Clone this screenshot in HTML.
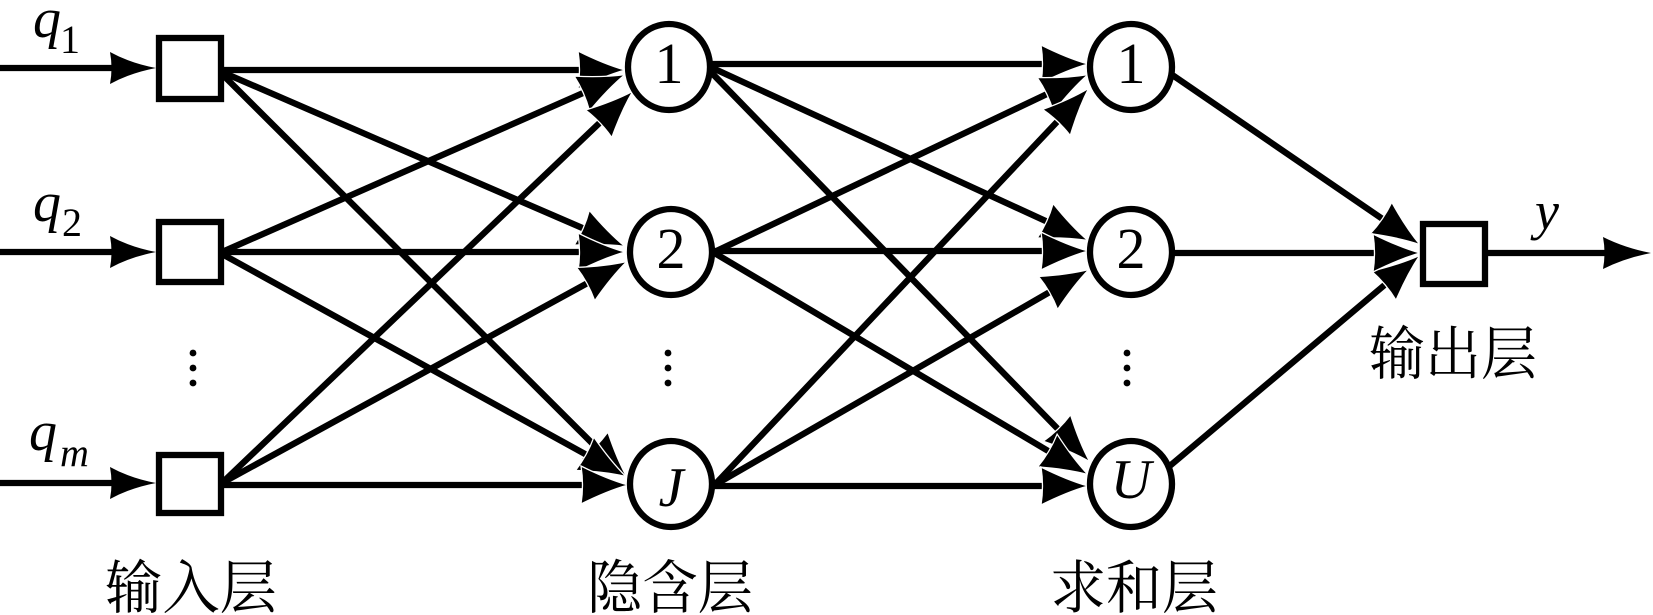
<!DOCTYPE html>
<html>
<head>
<meta charset="utf-8">
<style>
html,body{margin:0;padding:0;background:#fff;width:1653px;height:615px;overflow:hidden}
svg{display:block}
.l{stroke:#000;stroke-width:6.3;fill:none;stroke-dasharray:93 100}
.n{stroke:#000;stroke-width:6.3;fill:none}
text{fill:#000;font-family:"Liberation Serif","Noto Serif CJK SC",serif}
.i{font-style:italic}
</style>
</head>
<body>
<svg width="1653" height="615" viewBox="0 0 1653 615" xmlns="http://www.w3.org/2000/svg">
<defs>
<marker id="a" markerUnits="userSpaceOnUse" markerWidth="60" markerHeight="44" viewBox="-50 -22 60 44" refX="0" refY="0" orient="auto" overflow="visible">
<path d="M-46,-19 Q-20,-6 1,0 Q-20,6 -46,19 Q-43,0 -46,-19 Z" fill="#000" stroke="#fff" stroke-width="1.3"/>
</marker>
</defs>

<g stroke="#000" stroke-width="6.3">
<line x1="0" y1="68" x2="125" y2="68"/>
<line x1="0" y1="252" x2="125" y2="252"/>
<line x1="0" y1="483" x2="125" y2="483"/>
<line x1="1487" y1="253" x2="1615" y2="253"/>
</g>
<g fill="#000">
<path d="M110,52 Q130,63 156,68 Q130,73 110,84 Q113,68 110,52Z"/>
<path d="M110,236 Q130,247 156,252 Q130,257 110,268 Q113,252 110,236Z"/>
<path d="M110,467 Q130,478 156,483 Q130,488 110,499 Q113,483 110,467Z"/>
<path d="M1603,237 Q1625,248 1651,253 Q1625,258 1603,269 Q1606,253 1603,237Z"/>
</g>

<g>
<path class="l" pathLength="100" marker-end="url(#a)" d="M222,70 L624,70"/>
<path class="l" pathLength="100" marker-end="url(#a)" d="M222,252 L624,75"/>
<path class="l" pathLength="100" marker-end="url(#a)" d="M222,483 L632,92"/>
<path class="l" pathLength="100" marker-end="url(#a)" d="M222,72 L624,246"/>
<path class="l" pathLength="100" marker-end="url(#a)" d="M222,252 L624,252"/>
<path class="l" pathLength="100" marker-end="url(#a)" d="M222,483 L626,262"/>
<path class="l" pathLength="100" marker-end="url(#a)" d="M222,74 L627,478"/>
<path class="l" pathLength="100" marker-end="url(#a)" d="M222,254 L625,476"/>
<path class="l" pathLength="100" marker-end="url(#a)" d="M222,485 L627,485"/>

<path class="l" pathLength="100" marker-end="url(#a)" d="M706,64 L1087,64"/>
<path class="l" pathLength="100" marker-end="url(#a)" d="M706,256 L1087,75"/>
<path class="l" pathLength="100" marker-end="url(#a)" d="M706,494 L1088,89"/>
<path class="l" pathLength="100" marker-end="url(#a)" d="M706,65 L1087,240"/>
<path class="l" pathLength="100" marker-end="url(#a)" d="M706,251 L1087,251"/>
<path class="l" pathLength="100" marker-end="url(#a)" d="M706,490 L1088,270"/>
<path class="l" pathLength="100" marker-end="url(#a)" d="M706,67 L1089,461"/>
<path class="l" pathLength="100" marker-end="url(#a)" d="M706,248 L1087,474"/>
<path class="l" pathLength="100" marker-end="url(#a)" d="M706,486 L1087,486"/>

<path class="l" pathLength="100" marker-end="url(#a)" d="M1168,72 L1419,244"/>
<path class="l" pathLength="100" marker-end="url(#a)" d="M1165,470 L1419,256"/>
<path class="l" pathLength="100" marker-end="url(#a)" d="M1168,253 L1419,253"/>
</g>

<g>
<rect class="n" style="fill:#fff" x="159" y="38" width="62" height="61"/>
<rect class="n" style="fill:#fff" x="159" y="222" width="62" height="60"/>
<rect class="n" style="fill:#fff" x="159" y="455" width="62" height="58"/>
<rect class="n" style="fill:#fff" x="1423" y="224" width="62" height="60"/>
<ellipse class="n" style="fill:#fff" cx="669" cy="67" rx="41" ry="43"/>
<ellipse class="n" style="fill:#fff" cx="671" cy="252" rx="41" ry="43"/>
<ellipse class="n" style="fill:#fff" cx="671" cy="484" rx="41" ry="43"/>
<ellipse class="n" style="fill:#fff" cx="1131" cy="67" rx="41" ry="43"/>
<ellipse class="n" style="fill:#fff" cx="1131" cy="252" rx="41" ry="43"/>
<ellipse class="n" style="fill:#fff" cx="1131" cy="484" rx="41" ry="43"/>
</g>

<g fill="#000">
<circle cx="193" cy="353" r="3.4"/><circle cx="193" cy="368" r="3.4"/><circle cx="193" cy="383" r="3.4"/>
<circle cx="668" cy="353" r="3.4"/><circle cx="668" cy="368" r="3.4"/><circle cx="668" cy="383" r="3.4"/>
<circle cx="1127" cy="353" r="3.4"/><circle cx="1127" cy="368" r="3.4"/><circle cx="1127" cy="383" r="3.4"/>
</g>

<g font-size="58" text-anchor="middle">
<text x="669" y="83">1</text>
<text x="671" y="268">2</text>
<text x="1131" y="83">1</text>
<text x="1131" y="268">2</text>
</g>
<text class="i" x="671" y="506" font-size="56" text-anchor="middle">J</text>
<text class="i" x="1131" y="498" font-size="56" text-anchor="middle">U</text>

<text class="i" x="33" y="37" font-size="56">q</text>
<text x="60" y="53" font-size="40">1</text>
<text class="i" x="33" y="221" font-size="56">q</text>
<text x="62" y="236" font-size="40">2</text>
<text class="i" x="29" y="450" font-size="56">q</text>
<text class="i" x="60" y="466" font-size="40">m</text>
<text class="i" x="1535" y="229" font-size="54">y</text>

<text x="105" y="608" font-size="58" textLength="172" lengthAdjust="spacingAndGlyphs">输入层</text>
<text x="587" y="608" font-size="58" textLength="166" lengthAdjust="spacingAndGlyphs">隐含层</text>
<text x="1050" y="608" font-size="58" textLength="168" lengthAdjust="spacingAndGlyphs">求和层</text>
<text x="1369" y="374" font-size="58" textLength="168" lengthAdjust="spacingAndGlyphs">输出层</text>
</svg>
</body>
</html>
